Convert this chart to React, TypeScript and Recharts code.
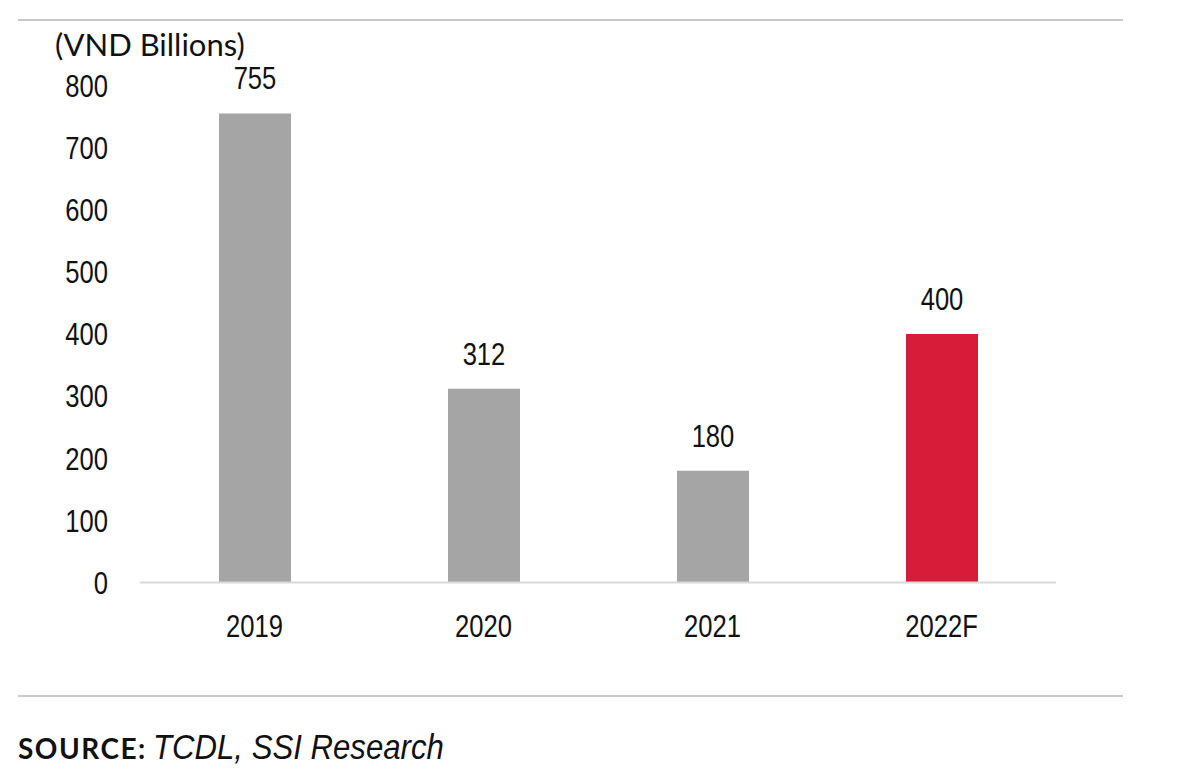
import React from 'react';
import { BarChart, Bar, XAxis, YAxis, Cell, LabelList } from 'recharts';

// Revenue by year (VND billions), 2022 is a forecast
const years = ['2019', '2020', '2021', '2022F'];
const values = [755, 312, 180, 400];
const barColors = ['#a5a5a5', '#a5a5a5', '#a5a5a5', '#d71c3a'];
const yTicks = [0, 100, 200, 300, 400, 500, 600, 700, 800];

// no narrow font installed, so squeeze a regular sans horizontally
const FONT = '"Liberation Sans", Arial, sans-serif';
const SQUEEZE = 0.8;
const squeeze = (x: number, y: number) =>
  `translate(${x},${y}) scale(${SQUEEZE},1) translate(${-x},${-y})`;

const XTick = (props: any) => {
  const { x, y, payload } = props;
  return (
    <text x={x} y={y} dy="0.71em" textAnchor="middle" fill="#111" fontSize={32} fontFamily={FONT} transform={squeeze(x, y)}>
      {payload.value}
    </text>
  );
};

const YTick = (props: any) => {
  const { x, y, payload } = props;
  return (
    <text x={x} y={y} dy="0.355em" textAnchor="end" fill="#111" fontSize={32} fontFamily={FONT} transform={squeeze(x, y)}>
      {payload.value}
    </text>
  );
};

const ValueLabel = (props: any) => {
  const { x, y, width, value } = props;
  const cx = x + width / 2;
  const by = y - 24;
  return (
    <text x={cx} y={by} textAnchor="middle" fill="#111" fontSize={32} fontFamily={FONT} transform={squeeze(cx, by)}>
      {value}
    </text>
  );
};

export default function App() {
  const data = years.map((year, i) => ({ year, value: values[i] }));

  return (
    <div
      style={{
        position: 'absolute',
        left: 0,
        top: 0,
        width: 1199,
        height: 781,
        background: '#fff',
        overflow: 'hidden',
      }}
    >
      {/* thin rules above and below the chart */}
      <div style={{ position: 'absolute', left: 18, top: 19, width: 1105, height: 2, background: '#c8c8c8' }} />
      <div style={{ position: 'absolute', left: 18, top: 695, width: 1105, height: 2, background: '#c8c8c8' }} />

      <div
        style={{
          position: 'absolute',
          left: 55,
          top: 26,
          fontFamily: 'Lato, sans-serif',
          fontSize: 31,
          color: '#111',
          lineHeight: '36px',
          whiteSpace: 'nowrap',
        }}
      >
        (VND Billions)
      </div>

      <BarChart
        width={1199}
        height={781}
        data={data}
        margin={{ top: 85.5, right: 143, bottom: 0, left: 0 }}
        style={{ position: 'absolute', left: 0, top: 0 }}
      >
        <XAxis
          dataKey="year"
          height={198.5}
          axisLine={{ stroke: '#d9d9d9', strokeWidth: 2 }}
          tickLine={false}
          tickSize={0}
          tickMargin={32}
          tick={<XTick />}
        />
        <YAxis
          width={140}
          domain={[0, 800]}
          ticks={yTicks}
          axisLine={false}
          tickLine={false}
          tickSize={0}
          tickMargin={32}
          tick={<YTick />}
        />
        <Bar dataKey="value" barSize={72} isAnimationActive={false}>
          {data.map((d, i) => (
            <Cell key={d.year} fill={barColors[i]} />
          ))}
          <LabelList dataKey="value" content={<ValueLabel />} />
        </Bar>
      </BarChart>

      <div
        style={{
          position: 'absolute',
          left: 18,
          top: 727,
          whiteSpace: 'nowrap',
          color: '#111',
          lineHeight: '40px',
        }}
      >
        <span style={{ fontFamily: 'Lato, sans-serif', fontWeight: 700, fontSize: 28, letterSpacing: 1.5 }}>SOURCE:</span>
        <span
          style={{
            display: 'inline-block',
            fontFamily: FONT,
            fontStyle: 'italic',
            fontSize: 35,
            marginLeft: 6,
            transform: 'scaleX(0.89)',
            transformOrigin: 'left center',
          }}
        >
          TCDL, SSI Research
        </span>
      </div>
    </div>
  );
}
